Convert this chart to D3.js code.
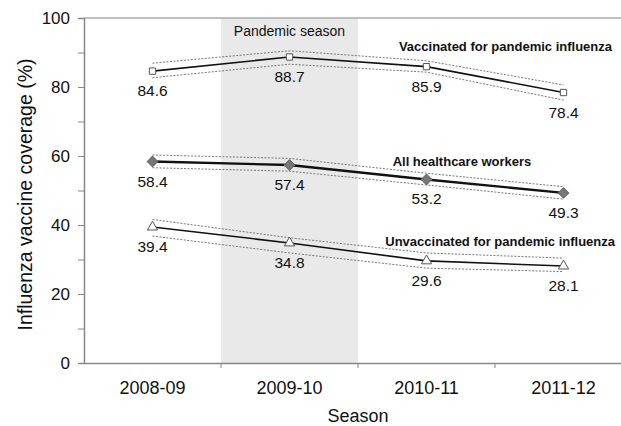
<!DOCTYPE html>
<html lang="en">
<head>
<meta charset="UTF-8">
<title>Influenza vaccine coverage</title>
<script src="https://d3js.org/d3.v7.min.js"></script>
<style>
  body { margin: 0; background: #fff; }
  text { font-family: "Liberation Sans", Arial, sans-serif; fill: #111; }
</style>
</head>
<body>
<script>
  const seasons = ['2008-09', '2009-10', '2010-11', '2011-12'];
  const yTicks = [0, 20, 40, 60, 80, 100];

  const vaccValues = [84.6, 88.7, 85.9, 78.4];
  const vaccLow = [82.7, 86.6, 84.3, 76.2];
  const vaccHigh = [86.9, 90.5, 87.6, 80.6];

  const allValues = [58.4, 57.4, 53.2, 49.3];
  const allLow = [56.6, 55.6, 51.6, 47.5];
  const allHigh = [60.3, 59.3, 55.0, 51.1];

  const unvaccValues = [39.4, 34.8, 29.6, 28.1];
  const unvaccLow = [36.8, 31.9, 27.5, 26.5];
  const unvaccHigh = [41.6, 36.3, 31.9, 30.4];

  const pandemicSeason = '2009-10';

  const width = 621, height = 426;
  const margin = {top: 18, right: -11, bottom: 63, left: 84};

  const svg = d3.select('body').append('svg')
    .attr('width', width).attr('height', height);

  const x = d3.scaleBand()
    .domain(seasons)
    .range([margin.left, width - margin.right]);

  const y = d3.scaleLinear()
    .domain([0, 100])
    .range([height - margin.bottom, margin.top]);

  // pandemic season shading
  svg.append('rect')
    .attr('x', x(pandemicSeason))
    .attr('y', y(100))
    .attr('width', x.bandwidth())
    .attr('height', y(0) - y(100))
    .attr('fill', '#e9e9e9');

  svg.append('text')
    .attr('x', x(pandemicSeason) + x.bandwidth() / 2)
    .attr('y', y(100) + 18)
    .attr('text-anchor', 'middle')
    .style('font-size', '14px')
    .text('Pandemic season');

  // top border
  svg.append('line')
    .attr('x1', margin.left).attr('x2', width)
    .attr('y1', y(100)).attr('y2', y(100))
    .attr('stroke', '#aaa').attr('stroke-width', 1.5);

  // y axis
  svg.append('g')
    .attr('transform', `translate(${margin.left},0)`)
    .call(d3.axisLeft(y).tickValues(d3.range(0, 101, 10)).tickSize(6)
      .tickFormat(d => yTicks.includes(d) ? d : ''))
    .call(g => g.select('.domain').attr('stroke', '#888').attr('stroke-width', 1.5))
    .call(g => g.selectAll('line').attr('stroke', '#888'))
    .call(g => g.selectAll('text')
      .attr('x', -14)
      .style('font-size', '17px')
      .style('font-family', '"Liberation Sans", Arial, sans-serif')
      .attr('fill', '#111'));

  // x axis
  svg.append('g')
    .attr('transform', `translate(0,${y(0)})`)
    .call(d3.axisBottom(x).tickSize(0).tickPadding(18))
    .call(g => g.select('.domain').attr('stroke', '#888').attr('stroke-width', 1.5))
    .call(g => g.selectAll('text')
      .style('font-size', '18px')
      .style('font-family', '"Liberation Sans", Arial, sans-serif')
      .attr('fill', '#111'));

  // ticks between categories
  svg.append('g').selectAll('line')
    .data(seasons.slice(1))
    .join('line')
    .attr('x1', d => x(d)).attr('x2', d => x(d))
    .attr('y1', y(0)).attr('y2', y(0) + 5)
    .attr('stroke', '#888');

  // axis titles
  svg.append('text')
    .attr('transform', `translate(32,${(y(0) + y(100)) / 2 + 4}) rotate(-90)`)
    .attr('text-anchor', 'middle')
    .style('font-size', '19.5px')
    .text('Influenza vaccine coverage (%)');

  svg.append('text')
    .attr('x', (margin.left + width - margin.right) / 2)
    .attr('y', 422)
    .attr('text-anchor', 'middle')
    .style('font-size', '18px')
    .text('Season');

  const cx = i => x(seasons[i]) + x.bandwidth() / 2;
  const line = d3.line().x((d, i) => cx(i)).y(d => y(d));

  function drawSeries(values, low, high, opts) {
    [low, high].forEach(arr => {
      svg.append('path')
        .datum(arr)
        .attr('d', line)
        .attr('fill', 'none')
        .attr('stroke', '#777')
        .attr('stroke-width', 1)
        .attr('stroke-dasharray', '2,1.5');
    });
    svg.append('path')
      .datum(values)
      .attr('d', line)
      .attr('fill', 'none')
      .attr('stroke', '#111')
      .attr('stroke-width', opts.lineWidth);

    const sym = d3.symbol().type(opts.symbol).size(opts.size);
    svg.append('g').selectAll('path')
      .data(values)
      .join('path')
      .attr('transform', (d, i) => `translate(${cx(i)},${y(d)})` + (opts.rotate ? ' rotate(45)' : ''))
      .attr('d', sym)
      .attr('fill', opts.fill)
      .attr('stroke', opts.stroke)
      .attr('stroke-width', 1);

    svg.append('g').selectAll('text')
      .data(values)
      .join('text')
      .attr('x', (d, i) => cx(i))
      .attr('y', d => y(d) + 25)
      .attr('text-anchor', 'middle')
      .style('font-size', '15.5px')
      .attr('fill', '#222')
      .text(d => d.toFixed(1));
  }

  drawSeries(vaccValues, vaccLow, vaccHigh,
    {symbol: d3.symbolSquare, size: 40, fill: '#fff', stroke: '#555', lineWidth: 1.6});
  drawSeries(allValues, allLow, allHigh,
    {symbol: d3.symbolSquare, rotate: true, size: 55, fill: '#777', stroke: '#666', lineWidth: 2.4});
  drawSeries(unvaccValues, unvaccLow, unvaccHigh,
    {symbol: d3.symbolTriangle, size: 45, fill: '#fff', stroke: '#555', lineWidth: 1.6});

  // series labels
  const seriesLabel = (txt, xPos, yPos, anchor) => svg.append('text')
    .attr('x', xPos).attr('y', yPos)
    .attr('text-anchor', anchor)
    .style('font-size', '13px')
    .style('font-weight', 'bold')
    .attr('fill', '#2a2a2a')
    .text(txt);

  seriesLabel('Vaccinated for pandemic influenza', 612, 51, 'end');
  seriesLabel('All healthcare workers', 462, 166, 'middle');
  seriesLabel('Unvaccinated for pandemic influenza', 615, 246, 'end');
</script>
</body>
</html>
